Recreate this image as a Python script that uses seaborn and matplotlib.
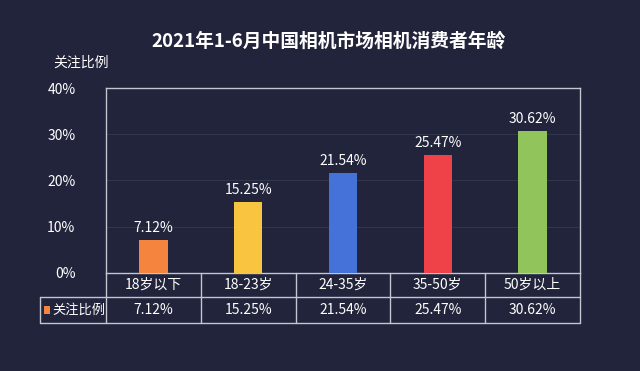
import numpy as np
import pandas as pd
import matplotlib
matplotlib.use("Agg")
import matplotlib.pyplot as plt
import seaborn as sns
from matplotlib.patches import Rectangle

categories = ["18岁以下", "18-23岁", "24-35岁", "35-50岁", "50岁以上"]
values = [7.12, 15.25, 21.54, 25.47, 30.62]
colors = ["#F5843F", "#F9C440", "#4472D8", "#EE4248", "#92C45C"]
series_name = "关注比例"
title = "2021年1-6月中国相机市场相机消费者年龄"

bg = "#21243a"
line_col = "#c4c6cf"

sns.set_theme(style="dark")
plt.rcParams["font.family"] = ["Noto Sans CJK SC", "DejaVu Sans"]

df = pd.DataFrame({"cat": categories, "val": values})

fig = plt.figure(figsize=(6.4, 3.71), dpi=100, facecolor=bg)
ax = fig.add_axes([0.1656, 0.2642, 0.7406, 0.4986])
ax.set_facecolor(bg)

sns.barplot(data=df, x="cat", y="val", hue="cat", palette=colors,
            width=0.3, legend=False, saturation=1, linewidth=0, ax=ax, zorder=3)

ax.set_ylim(0, 40)
ax.set_xlim(-0.5, len(categories) - 0.5)
ax.set_yticks([0, 10, 20, 30, 40])
ax.set_yticklabels([f"{v}%" for v in [0, 10, 20, 30, 40]], color="white", fontsize=10)
ax.tick_params(axis="y", length=0, pad=22)
ax.set_xticks([])
ax.set_xlabel("")
ax.set_ylabel("")
ax.grid(axis="y", color="#363a4f", linewidth=0.6)
for s in ax.spines.values():
    s.set_visible(True)
    s.set_color(line_col)
    s.set_linewidth(1)

for i, v in enumerate(values):
    ax.text(i, v + 1.2, f"{v:.2f}%", ha="center", va="bottom", color="white", fontsize=10)

fig.text(0.513, 0.89, title, ha="center", va="center", color="white",
         fontsize=13.5, fontweight="bold")
fig.text(0.083, 0.832, series_name, ha="left", va="center", color="white", fontsize=10)

# data table under the axes, drawn in axes coordinates
n = len(categories)
r1, r2 = -0.13, -0.27
lx = -0.139
kw = dict(transform=ax.transAxes, color=line_col, linewidth=1, clip_on=False)
ax.plot([lx, 1], [r1, r1], **kw)
ax.plot([lx, 1], [r2, r2], **kw)
ax.plot([lx, lx], [r1, r2], **kw)
for k in range(n + 1):
    ax.plot([k / n, k / n], [0, r2], **kw)

for i, cat in enumerate(categories):
    xc = (i + 0.5) / n
    ax.text(xc, r1 / 2, cat, transform=ax.transAxes, ha="center", va="center",
            color="white", fontsize=10, clip_on=False)
    ax.text(xc, (r1 + r2) / 2, f"{values[i]:.2f}%", transform=ax.transAxes,
            ha="center", va="center", color="white", fontsize=10, clip_on=False)

ym = (r1 + r2) / 2
ax.add_patch(Rectangle((lx + 0.008, ym - 0.022), 0.013, 0.044, transform=ax.transAxes,
                       facecolor=colors[0], edgecolor="none", clip_on=False))
ax.text(lx + 0.026, ym, series_name, transform=ax.transAxes, color="white",
        fontsize=9.5, ha="left", va="center", clip_on=False)

fig.savefig("out.png", dpi=100, facecolor=bg)
